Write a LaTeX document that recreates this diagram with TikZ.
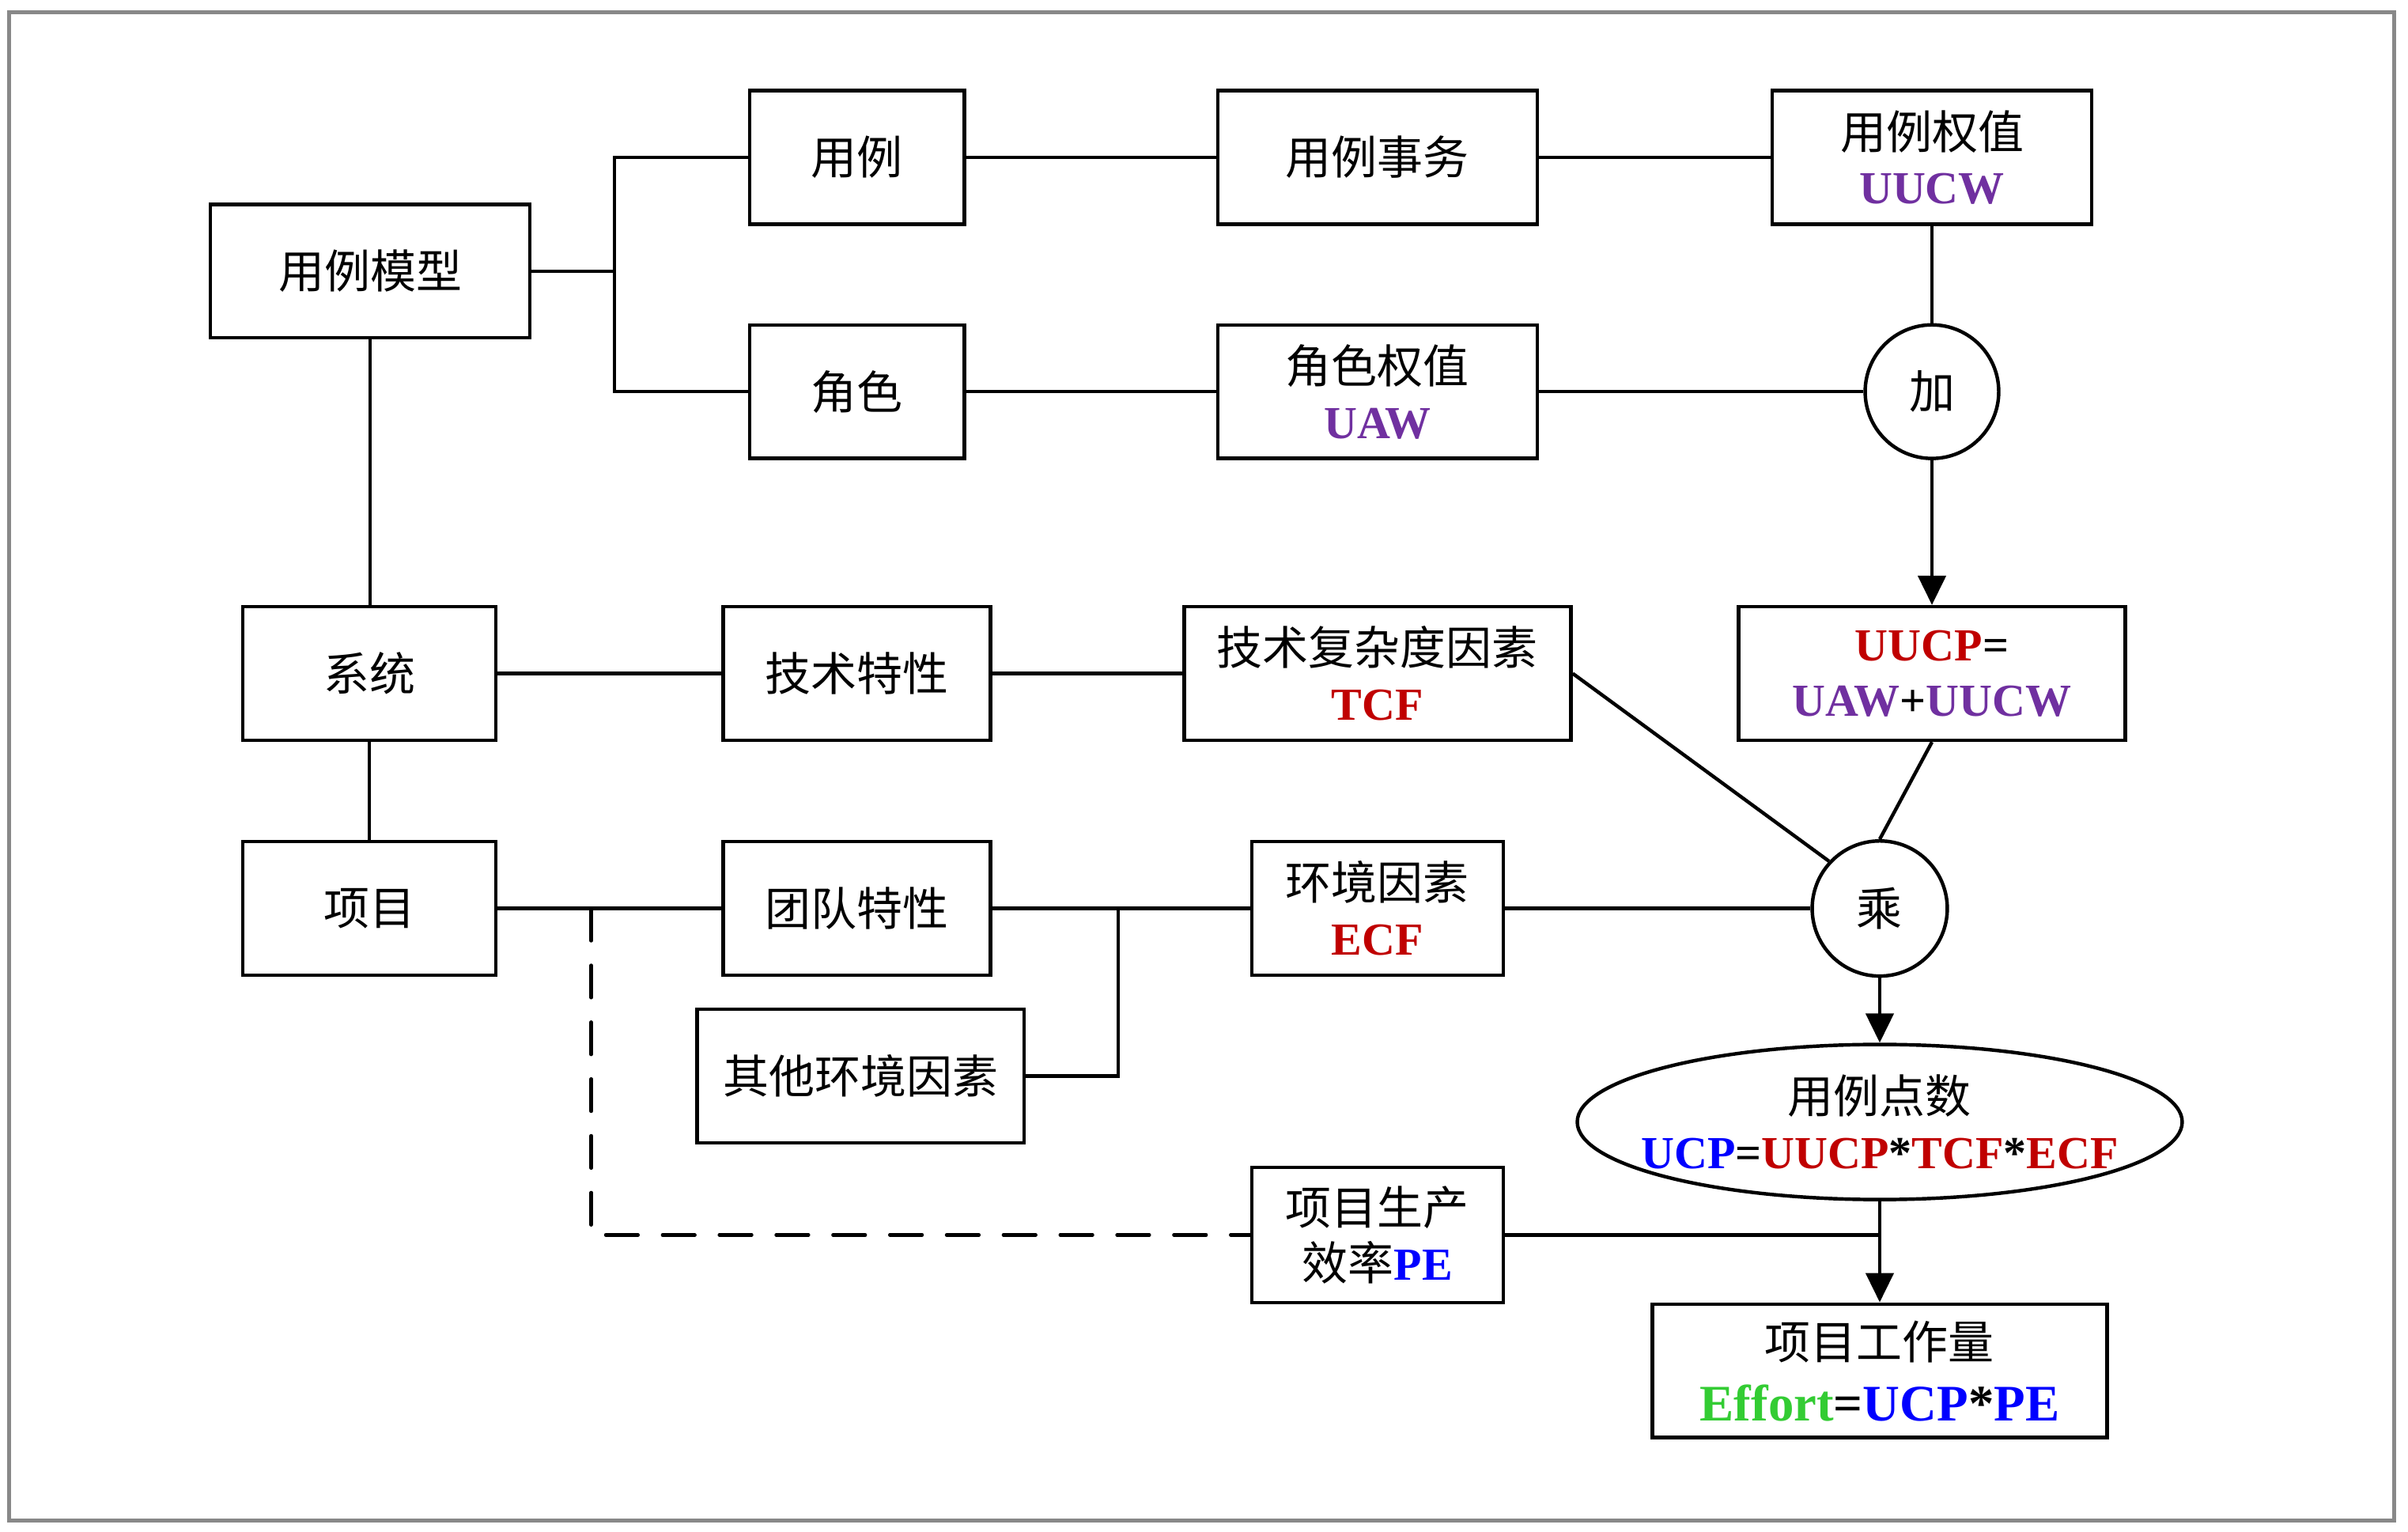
\documentclass[tikz,border=0pt]{standalone}
\usepackage{fontspec}
\setmainfont{Noto Sans CJK SC}
\newfontfamily\tnr{Liberation Serif}
\usetikzlibrary{arrows.meta,shapes.geometric}
\definecolor{ucpurple}{RGB}{112,48,160}
\definecolor{ucred}{RGB}{192,0,0}
\definecolor{ucblue}{RGB}{0,0,255}
\definecolor{ucgreen}{RGB}{51,204,51}
\definecolor{framegray}{RGB}{136,136,136}
% Latin formula parts: bold Times-like face in a given colour
\newcommand\tm[2]{{\tnr\bfseries\color{#1}#2}}

\begin{document}
\begin{tikzpicture}[x=0.02cm,y=-0.02cm,
  every node/.style={font=\fontsize{17}{20.5}\selectfont, inner sep=0pt, align=center},
  box/.style={draw, line width=1.3pt, minimum height=1.74cm},
  op/.style={draw, circle, line width=1.3pt, minimum size=1.74cm},
  link/.style={line width=1.3pt},
  flow/.style={link, -{Triangle[length=0.38cm,width=0.36cm]}},
  dashlink/.style={link, dash pattern=on 0.42cm off 0.32cm, line cap=round}]

\useasboundingbox (0,0) rectangle (1568,997);
\fill[white] (0,0) rectangle (1568,997);
\draw[framegray, line width=1.3pt] (6,8) rectangle (1559,990);

% --- use-case branch
\node[box, minimum width=4.16cm] (model) at (241,176.5) {用例模型};
\node[box, minimum width=2.8cm]  (uc)    at (558,102.5) {用例};
\node[box, minimum width=2.8cm]  (actor) at (558,255)   {角色};
\node[box, minimum width=4.16cm] (uctx)  at (897,102.5) {用例事务};
\node[box, minimum width=4.16cm] (uaw)   at (897,255)   {角色权值\\\tm{ucpurple}{UAW}};
\node[box, minimum width=4.16cm] (uucw)  at (1258,102.5) {用例权值\\\tm{ucpurple}{UUCW}};
\node[op] (add) at (1258,255) {加};
\node[box, minimum width=5.04cm] (uucp) at (1258,438.5)
  {\tm{ucred}{UUCP}\tm{black}{=}\\\tm{ucpurple}{UAW}\tm{black}{+}\tm{ucpurple}{UUCW}};

% --- system / project branch
\node[box, minimum width=3.3cm]  (sys)   at (240.5,438.5) {系统};
\node[box, minimum width=3.48cm] (tech)  at (558,438.5)   {技术特性};
\node[box, minimum width=5.04cm] (tcf)   at (897,438.5)   {技术复杂度因素\\\tm{ucred}{TCF}};
\node[box, minimum width=3.3cm]  (proj)  at (240.5,591.5) {项目};
\node[box, minimum width=3.48cm] (team)  at (558,591.5)   {团队特性};
\node[box, minimum width=3.28cm] (ecf)   at (897,591.5)   {环境因素\\\tm{ucred}{ECF}};
\node[box, minimum width=4.26cm] (other) at (560.5,700.5) {其他环境因素};
\node[op, minimum size=1.76cm] (mul) at (1224,591.5) {乘};
\node[draw, ellipse, line width=1.3pt, minimum width=7.88cm, minimum height=2.02cm] (ucp) at (1224,730.5) {};
\node at (ucp) {用例点数\\\tm{ucblue}{UCP}\tm{black}{=}\tm{ucred}{UUCP}\tm{black}{*}\tm{ucred}{TCF}\tm{black}{*}\tm{ucred}{ECF}};
\node[box, minimum width=3.28cm, minimum height=1.76cm] (pe) at (897,804) {项目生产\\效率\tm{ucblue}{PE}};
\node[box, minimum width=5.92cm] (effort) at (1224,892.5)
  {项目工作量\\[0.08cm]{\fontsize{19}{21}\selectfont\tm{ucgreen}{Effort}\tm{black}{=}\tm{ucblue}{UCP}\tm{black}{*}\tm{ucblue}{PE}}};

% --- junction points
\coordinate (jm) at (400,176.5);
\coordinate (jd) at (385,591.5);
\coordinate (je) at (728,591.5);

% --- connectors
\draw[link] (model.east) -- (jm);
\draw[link] (uc.west) -| (jm) |- (actor.west);
\draw[link] (uc) -- (uctx);
\draw[link] (uctx) -- (uucw);
\draw[link] (actor) -- (uaw);
\draw[link] (uaw) -- (add);
\draw[link] (uucw) -- (add);
\draw[flow] (add) -- (uucp);
\draw[link] (uucp.south) -- (mul.north);
\draw[link] (tcf.east) -- (mul.137);
\draw[link] (model.south) -- (model.south |- sys.north);
\draw[link] (sys) -- (tech);
\draw[link] (tech) -- (tcf);
\draw[link] (sys) -- (proj);
\draw[link] (proj) -- (team);
\draw[link] (team) -- (ecf);
\draw[link] (other.east) -| (je);
\draw[link] (ecf) -- (mul);
\draw[dashlink] (jd) |- (pe.west);
\draw[flow] (mul) -- (ucp);
\draw[flow] (ucp) -- (effort);
\draw[link] (pe.east) -- (pe.east -| effort.north);
\end{tikzpicture}
\end{document}
